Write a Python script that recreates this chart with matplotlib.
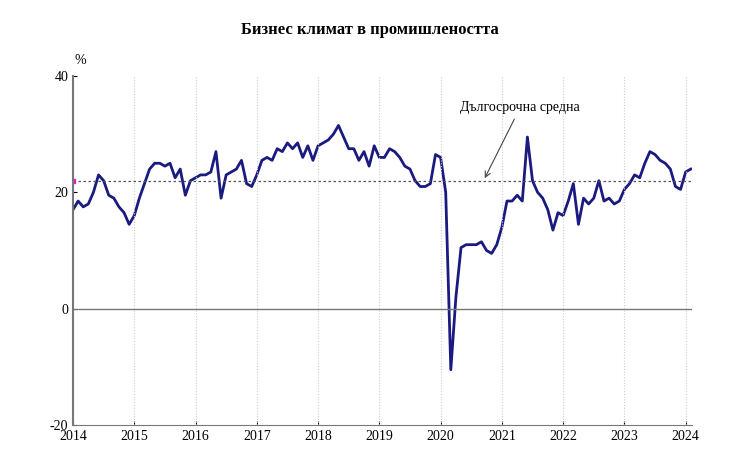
import matplotlib
matplotlib.use("Agg")
import matplotlib.pyplot as plt
import numpy as np

title = "Бизнес климат в промишлеността"
start_year = 2014
values = [
    17, 18.5, 17.5, 18, 20, 23, 22, 19.5, 19, 17.5, 16.5, 14.5,   # 2014
    16, 19, 21.5, 24, 25, 25, 24.5, 25, 22.5, 24, 19.5, 22,       # 2015
    22.5, 23, 23, 23.5, 27, 19, 23, 23.5, 24, 25.5, 21.5, 21,     # 2016
    23, 25.5, 26, 25.5, 27.5, 27, 28.5, 27.5, 28.5, 26, 28, 25.5, # 2017
    28, 28.5, 29, 30, 31.5, 29.5, 27.5, 27.5, 25.5, 27, 24.5, 28, # 2018
    26, 26, 27.5, 27, 26, 24.5, 24, 22, 21, 21, 21.5, 26.5,       # 2019
    26, 20, -10.5, 2, 10.5, 11, 11, 11, 11.5, 10, 9.5, 11,        # 2020
    14, 18.5, 18.5, 19.5, 18.5, 29.5, 22, 20, 19, 17, 13.5, 16.5, # 2021
    16, 18.5, 21.5, 14.5, 19, 18, 19, 22, 18.5, 19, 18, 18.5,     # 2022
    20.5, 21.5, 23, 22.5, 25, 27, 26.5, 25.5, 25, 24, 21, 20.5,   # 2023
    23.5, 24,                                                     # 2024
]
long_term_mean = 22.0
year_ticks = list(range(2014, 2025))
y_ticks = [-20, 0, 20, 40]
mean_label = "Дългосрочна средна"

x = start_year + np.arange(len(values)) / 12.0

fig = plt.figure(figsize=(7.4, 4.76), dpi=100)
ax = fig.add_axes([73/740, 1-425/476, (692-73)/740, (425-76)/476])
serif = ["Liberation Serif", "DejaVu Serif"]

ax.plot(x, values, color="#1a1a80", lw=2.0, solid_joinstyle="round")
ax.axhline(long_term_mean, color="#555555", lw=0.9, ls=(0, (2, 2)))
ax.axhline(0, color="#777777", lw=1.0)
ax.plot([start_year], [long_term_mean], marker="s", ms=3, color="#e020c0")
for yr in year_ticks[1:]:
    ax.axvline(yr, color="#cccccc", lw=0.8, ls=(0, (1, 1.5)))

ax.set_xlim(start_year, x[-1] + 0.02)
ax.set_ylim(-20, 40)
ax.set_xticks(year_ticks)
ax.set_yticks(y_ticks)
ax.set_xticklabels([str(y) for y in year_ticks], family=serif, fontsize=10)
ax.set_yticklabels([str(v) for v in y_ticks], family=serif, fontsize=10)
ax.tick_params(direction="in", length=3)
for s in ["top", "right"]:
    ax.spines[s].set_visible(False)
for s in ["left", "bottom"]:
    ax.spines[s].set_color("#777777")
ax.spines["left"].set_linewidth(1.5)

ax.annotate(mean_label, xy=(2020.7, long_term_mean), xytext=(2021.3, 33.5),
            ha="center", va="bottom", family=serif, fontsize=10,
            arrowprops=dict(arrowstyle="->", color="#444444", lw=0.8))
fig.text(80/740, 1-64/476, "%", family=serif, fontsize=10, ha="center")
fig.text(0.5, 1-34/476, title, family=serif, fontsize=12, fontweight="bold", ha="center")

fig.savefig("out.png", dpi=100)
